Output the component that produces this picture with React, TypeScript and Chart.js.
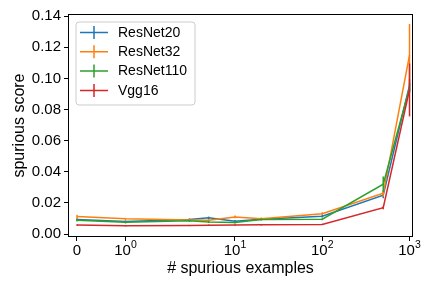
import React, { useEffect, useRef } from 'react';
import { Chart, registerables } from 'chart.js';
Chart.register(...registerables);

// ---- data ----
const xValues = [0, 1, 3, 5, 10, 20, 100, 500, 1000];
const seriesLabels = ['ResNet20', 'ResNet32', 'ResNet110', 'Vgg16'];
const seriesColors = ['#1f77b4', '#ff7f0e', '#2ca02c', '#d62728'];

const resnet20 = [0.0094, 0.0081, 0.0094, 0.0104, 0.0083, 0.0095, 0.0114, 0.0250, 0.0955];
const resnet20Err = [0.0008, 0.0006, 0.0007, 0.0008, 0.0007, 0.0006, 0.0008, 0.0020, 0.0040];
const resnet32 = [0.0112, 0.0098, 0.0090, 0.0088, 0.0110, 0.0099, 0.0131, 0.0262, 0.1150];
const resnet32Err = [0.0012, 0.0006, 0.0007, 0.0008, 0.0009, 0.0007, 0.0009, 0.0020, 0.0200];
const resnet110 = [0.0088, 0.0075, 0.0085, 0.0078, 0.0074, 0.0093, 0.0095, 0.0320, 0.0940];
const resnet110Err = [0.0008, 0.0007, 0.0006, 0.0007, 0.0006, 0.0006, 0.0007, 0.0050, 0.0030];
const vgg16 = [0.0058, 0.0053, 0.0055, 0.0057, 0.0058, 0.0059, 0.0062, 0.0169, 0.0926];
const vgg16Err = [0.0005, 0.0004, 0.0004, 0.0004, 0.0004, 0.0004, 0.0004, 0.0010, 0.0170];

const seriesValues = [resnet20, resnet32, resnet110, vgg16];
const seriesErrors = [resnet20Err, resnet32Err, resnet110Err, vgg16Err];

const yTicks = [0, 0.02, 0.04, 0.06, 0.08, 0.1, 0.12, 0.14];
const xTicks = [0, 1, 10, 100, 1000];
const xTickBase = ['0', '10', '10', '10', '10'];
const xTickExp = ['', '0', '1', '2', '3'];

const xTitle = '# spurious examples';
const yTitle = 'spurious score';

// symlog transform (linthresh 2, base 10, linscale 1)
const LINTHRESH = 2;
const LINSCALE_ADJ = 1 / (1 - 1 / 10);
function symlog(v: number): number {
  const a = Math.abs(v);
  if (a <= LINTHRESH) return v * LINSCALE_ADJ;
  return Math.sign(v) * LINTHRESH * (LINSCALE_ADJ + Math.log10(a / LINTHRESH));
}

const FONT = "'Liberation Sans', Arial, sans-serif";

const errorBarPlugin = {
  id: 'errorBars',
  afterDatasetDraw(chart: any, args: any) {
    const ds = chart.data.datasets[args.index];
    const meta = args.meta;
    const errs: number[] = ds.errors;
    const ctx = chart.ctx;
    const y = chart.scales.y;
    ctx.save();
    ctx.strokeStyle = ds.borderColor;
    ctx.lineWidth = 1.5;
    meta.data.forEach((pt: any, i: number) => {
      const raw = ds.data[i];
      const top = y.getPixelForValue(raw.y + errs[i]);
      const bot = y.getPixelForValue(raw.y - errs[i]);
      ctx.beginPath();
      ctx.moveTo(pt.x, top);
      ctx.lineTo(pt.x, bot);
      ctx.stroke();
    });
    ctx.restore();
  },
};

const decorPlugin = {
  id: 'decor',
  afterDraw(chart: any) {
    const ctx = chart.ctx;
    const area = chart.chartArea;
    const xs = chart.scales.x;
    ctx.save();
    // frame
    ctx.strokeStyle = '#000';
    ctx.lineWidth = 1;
    ctx.strokeRect(Math.round(area.left) + 0.5, Math.round(area.top) + 0.5,
      Math.round(area.right - area.left) - 1, Math.round(area.bottom - area.top) - 1);

    // x tick labels with superscripts
    ctx.fillStyle = '#000';
    ctx.textBaseline = 'alphabetic';
    xTicks.forEach((v, i) => {
      const px = xs.getPixelForValue(symlog(v));
      const base = xTickBase[i];
      const exp = xTickExp[i];
      ctx.font = `15px ${FONT}`;
      const bw = ctx.measureText(base).width;
      ctx.font = `10.5px ${FONT}`;
      const ew = exp ? ctx.measureText(exp).width : 0;
      const total = bw + ew;
      const start = px - total / 2;
      ctx.font = `15px ${FONT}`;
      ctx.textAlign = 'left';
      ctx.fillText(base, start, area.bottom + 18);
      if (exp) {
        ctx.font = `10.5px ${FONT}`;
        ctx.fillText(exp, start + bw, area.bottom + 11);
      }
    });

    // axis titles
    ctx.font = `16px ${FONT}`;
    ctx.textAlign = 'center';
    ctx.textBaseline = 'middle';
    ctx.fillText(xTitle, (area.left + area.right) / 2, 269);
    ctx.save();
    ctx.translate(20, (area.top + area.bottom) / 2);
    ctx.rotate(-Math.PI / 2);
    ctx.fillText(yTitle, 0, 0);
    ctx.restore();

    // legend
    const lx = 76, ly = 22, lw = 119, lh = 83, r = 3;
    ctx.beginPath();
    ctx.moveTo(lx + r, ly);
    ctx.lineTo(lx + lw - r, ly);
    ctx.arcTo(lx + lw, ly, lx + lw, ly + r, r);
    ctx.lineTo(lx + lw, ly + lh - r);
    ctx.arcTo(lx + lw, ly + lh, lx + lw - r, ly + lh, r);
    ctx.lineTo(lx + r, ly + lh);
    ctx.arcTo(lx, ly + lh, lx, ly + lh - r, r);
    ctx.lineTo(lx, ly + r);
    ctx.arcTo(lx, ly, lx + r, ly, r);
    ctx.closePath();
    ctx.fillStyle = 'rgba(255,255,255,0.8)';
    ctx.fill();
    ctx.strokeStyle = '#cccccc';
    ctx.lineWidth = 1;
    ctx.stroke();
    seriesLabels.forEach((label, i) => {
      const cy = 32.5 + i * 19.3;
      ctx.strokeStyle = seriesColors[i];
      ctx.lineWidth = 1.5;
      ctx.beginPath();
      ctx.moveTo(80, cy);
      ctx.lineTo(108, cy);
      ctx.moveTo(94, cy - 6.5);
      ctx.lineTo(94, cy + 6.5);
      ctx.stroke();
      ctx.fillStyle = '#000';
      ctx.font = `14px ${FONT}`;
      ctx.textAlign = 'left';
      ctx.textBaseline = 'middle';
      ctx.fillText(label, 118, cy + 0.5);
    });
    ctx.restore();
  },
};

export default function App() {
  const ref = useRef<HTMLCanvasElement>(null);
  useEffect(() => {
    if (!ref.current) return;
    const datasets = seriesLabels.map((label, i) => ({
      label,
      data: xValues.map((x, j) => ({ x: symlog(x), y: seriesValues[i][j] })),
      errors: seriesErrors[i],
      borderColor: seriesColors[i],
      backgroundColor: seriesColors[i],
      borderWidth: 1.5,
      pointRadius: 0,
      tension: 0,
      fill: false,
      order: 4 - i,
    }));
    const chart = new Chart(ref.current, {
      type: 'line',
      data: { datasets } as any,
      options: {
        animation: false,
        responsive: false,
        maintainAspectRatio: false,
        devicePixelRatio: 1,
        layout: { padding: { top: 14, right: 19, left: 0, bottom: 0 } },
        plugins: { legend: { display: false }, tooltip: { enabled: false } },
        scales: {
          x: {
            type: 'linear',
            min: -0.2062,
            max: 7.70,
            afterBuildTicks: (s: any) => { s.ticks = xTicks.map((v) => ({ value: symlog(v) })); },
            afterFit: (s: any) => { s.height = 51; },
            ticks: { callback: () => '', autoSkip: false, maxRotation: 0, font: { family: FONT, size: 15 } },
            grid: { drawOnChartArea: false, drawTicks: true, tickLength: 4, color: '#000', lineWidth: 1 },
            border: { display: false },
          },
          y: {
            type: 'linear',
            min: -0.0019,
            max: 0.1414,
            afterBuildTicks: (s: any) => { s.ticks = yTicks.map((v) => ({ value: v })); },
            afterFit: (s: any) => { s.width = 68; },
            ticks: {
              callback: (v: any) => Number(v).toFixed(2),
              autoSkip: false,
              color: '#000',
              padding: 3,
              font: { family: FONT, size: 15 },
            },
            grid: { drawOnChartArea: false, drawTicks: true, tickLength: 4, color: '#000', lineWidth: 1 },
            border: { display: false },
          },
        },
      } as any,
      plugins: [errorBarPlugin, decorPlugin],
    });
    return () => chart.destroy();
  }, []);
  return (
    <div style={{ position: 'fixed', left: 0, top: 0, width: 432, height: 288, background: '#fff' }}>
      <canvas ref={ref} width={432} height={288} style={{ width: 432, height: 288 }} />
    </div>
  );
}
